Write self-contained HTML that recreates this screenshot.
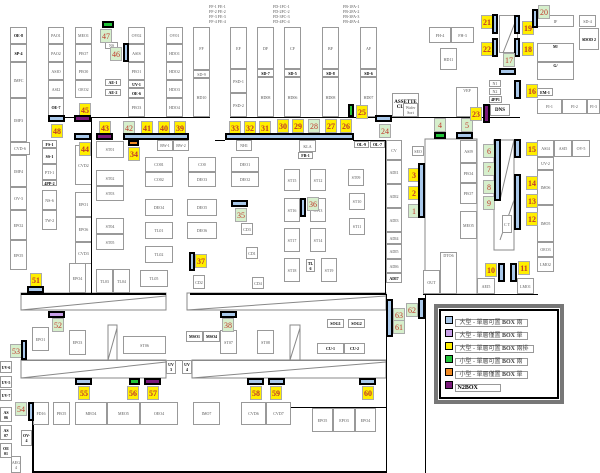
<!DOCTYPE html><html><head><meta charset="utf-8"><style>
body{margin:0;width:600px;height:473px;background:#fff;position:relative;overflow:hidden;font-family:"Liberation Serif","Noto Serif CJK SC",serif}
div{position:absolute;box-sizing:border-box}
.b{border:1px solid #999;font-size:4px;color:#555;display:flex;align-items:center;justify-content:center;text-align:center;line-height:5px;background:#fff}
.k{font-weight:bold;color:#000}
.y,.g{width:12px;height:14px;border:1px solid #aaa;font-size:8px;color:#c0392b;display:flex;align-items:center;justify-content:center;font-weight:bold}
.y{background:#ffef00}.g{background:#d6efcc;font-weight:normal}
.p{background:#a9c8ea;border:2px solid #000}
.l{background:#000}
.t{font-size:4px;color:#555;line-height:5px}
</style></head><body>
<!-- left column -->
<div class="b k" style="left:10px;top:27px;width:17px;height:17px">OE-8</div>
<div class="b k" style="left:10px;top:44px;width:17px;height:18px">SP-4</div>
<div class="b" style="left:10px;top:62px;width:17px;height:36px">IMFC</div>
<div class="b" style="left:10px;top:98px;width:17px;height:44px">IMF3</div>
<div class="b" style="left:10px;top:142px;width:20px;height:13px">CVD-6</div>
<div class="b" style="left:10px;top:155px;width:17px;height:32px">IMF4</div>
<div class="b" style="left:10px;top:187px;width:17px;height:23px">OV-3</div>
<div class="b" style="left:10px;top:210px;width:17px;height:30px">EPO2</div>
<div class="b" style="left:10px;top:240px;width:17px;height:30px">EPO5</div>
<div class="b" style="left:48px;top:27px;width:16px;height:17px">PAO1</div>
<div class="b" style="left:48px;top:44px;width:16px;height:18px">PAO2</div>
<div class="b" style="left:48px;top:62px;width:16px;height:18px">ASIO</div>
<div class="b" style="left:48px;top:80px;width:16px;height:18px">ASI2</div>
<div class="b k" style="left:48px;top:98px;width:16px;height:19px">OE-7</div>
<div class="b" style="left:75px;top:27px;width:17px;height:17px">MEO1</div>
<div class="b" style="left:75px;top:44px;width:17px;height:18px">PEO7</div>
<div class="b" style="left:75px;top:62px;width:17px;height:18px">PEO0</div>
<div class="b" style="left:75px;top:80px;width:17px;height:18px">OEO2</div>
<div class="b k" style="left:42px;top:140px;width:15px;height:8px">FS-1</div>
<div class="b k" style="left:42px;top:148px;width:15px;height:16px">SS-1</div>
<div class="b" style="left:42px;top:164px;width:15px;height:16px">PTI-1</div>
<div class="b k" style="left:42px;top:180px;width:15px;height:6px">4PP-2</div>
<div class="b" style="left:42px;top:190px;width:15px;height:20px">NS-6</div>
<div class="b" style="left:42px;top:210px;width:15px;height:20px">TW-2</div>
<div class="b" style="left:75px;top:145px;width:17px;height:40px">CVD2</div>
<div class="b" style="left:75px;top:192px;width:17px;height:25px">EPO1</div>
<div class="b" style="left:75px;top:217px;width:17px;height:25px">EPO6</div>
<div class="b" style="left:75px;top:242px;width:17px;height:22px">CVD3</div>
<div class="b" style="left:69px;top:263px;width:17px;height:30px">EPO4</div>
<div class="b k" style="left:105px;top:79px;width:16px;height:7px">AE-1</div>
<div class="b k" style="left:105px;top:89px;width:16px;height:7px">AE-2</div>
<div class="b" style="left:105px;top:42px;width:13px;height:7px">NS</div>
<div class="b" style="left:128px;top:27px;width:17px;height:17px">OV02</div>
<div class="b" style="left:128px;top:44px;width:17px;height:18px">ASIS</div>
<div class="b" style="left:128px;top:62px;width:17px;height:18px">PEO1</div>
<div class="b k" style="left:128px;top:80px;width:17px;height:8px">UV-1</div>
<div class="b k" style="left:128px;top:88px;width:17px;height:10px">OE-6</div>
<div class="b" style="left:128px;top:98px;width:17px;height:19px">PEO3</div>
<div class="b" style="left:166px;top:27px;width:17px;height:17px">OV01</div>
<div class="b" style="left:166px;top:44px;width:17px;height:18px">HDO1</div>
<div class="b" style="left:166px;top:62px;width:17px;height:18px">HDO2</div>
<div class="b" style="left:166px;top:80px;width:17px;height:18px">HDO3</div>
<div class="b" style="left:166px;top:98px;width:17px;height:19px">HDO4</div>
<div class="b" style="left:193px;top:27px;width:17px;height:43px">FF</div>
<div class="b" style="left:193px;top:70px;width:17px;height:8px">SD-9</div>
<div class="b" style="left:193px;top:78px;width:17px;height:39px">HD10</div>
<div class="b" style="left:230px;top:27px;width:17px;height:42px">EF</div>
<div class="b" style="left:230px;top:69px;width:17px;height:24px">PSD-1</div>
<div class="b" style="left:230px;top:93px;width:17px;height:24px">PSD-2</div>
<div class="b" style="left:257px;top:27px;width:17px;height:42px">DF</div>
<div class="b k" style="left:257px;top:69px;width:17px;height:8px">SD-7</div>
<div class="b" style="left:257px;top:77px;width:17px;height:40px">HD08</div>
<div class="b" style="left:284px;top:27px;width:17px;height:42px">CF</div>
<div class="b k" style="left:284px;top:69px;width:17px;height:8px">SD-5</div>
<div class="b" style="left:284px;top:77px;width:17px;height:40px">HD06</div>
<div class="b" style="left:322px;top:27px;width:17px;height:42px">BF</div>
<div class="b k" style="left:322px;top:69px;width:17px;height:8px">SD-8</div>
<div class="b" style="left:322px;top:77px;width:17px;height:40px">HD08</div>
<div class="b" style="left:360px;top:27px;width:17px;height:42px">AF</div>
<div class="b k" style="left:360px;top:69px;width:17px;height:8px">SD-6</div>
<div class="b" style="left:360px;top:77px;width:17px;height:40px">HD07</div>
<div class="t" style="left:209px;top:4px">FF-1 FE-1<br>FF-2 FE-2<br>FF-3 FE-3<br>FF-4 FE-4</div>
<div class="t" style="left:273px;top:4px">FD-1FC-1<br>FD-2FC-2<br>FD-3FC-3<br>FD-4FC-4</div>
<div class="t" style="left:343px;top:4px">FB-1FA-1<br>FB-2FA-2<br>FB-3FA-3<br>FB-4FA-4</div>
<div class="b" style="left:429px;top:27px;width:22px;height:16px">FH-4</div>
<div class="b" style="left:451px;top:27px;width:23px;height:16px">FH-3</div>
<div class="b" style="left:440px;top:48px;width:17px;height:22px">HD11</div>
<div class="b k" style="left:392px;top:93px;width:27px;height:24px;font-size:5px">ASSETTE CLEAN</div>
<div class="b" style="left:403px;top:103px;width:15px;height:14px">Wafer Sort</div>
<div class="b" style="left:456px;top:87px;width:22px;height:30px;align-items:flex-start">VEP</div>
<div class="b" style="left:489px;top:80px;width:12px;height:7px">N1</div>
<div class="b" style="left:489px;top:88px;width:12px;height:7px">N2</div>
<div class="b k" style="left:489px;top:96px;width:13px;height:7px">4PP1</div>
<div class="b k" style="left:490px;top:104px;width:20px;height:12px;font-size:5px">DNS</div>
<div class="b" style="left:499px;top:15px;width:19px;height:38px;background:none"></div>
<svg style="position:absolute;left:0;top:0" width="600" height="473"><g stroke="#888" fill="none" stroke-width="1">
<line x1="503" y1="53" x2="518" y2="15"/><line x1="500" y1="200" x2="514" y2="140"/><line x1="500" y1="240" x2="514" y2="200"/>
<polygon points="21,293 166,293 166,310 21,310"/><line x1="21" y1="310" x2="166" y2="296"/>
<polygon points="187,293 386,293 386,310 187,310"/><line x1="187" y1="310" x2="386" y2="296"/>
<polygon points="21,360 166,360 166,378 21,378"/><line x1="21" y1="378" x2="166" y2="362"/>
<polygon points="192,360 386,360 386,378 192,378"/><line x1="192" y1="378" x2="386" y2="362"/>
<polygon points="108,325 117,325 117,360 108,360"/><line x1="108" y1="360" x2="117" y2="328"/>
<polygon points="290,325 300,325 300,360 290,360"/><line x1="290" y1="360" x2="300" y2="328"/>
<rect x="425" y="139" width="52" height="155"/><rect x="494" y="140" width="20" height="110"/>
</g></svg>
<div class="b" style="left:537px;top:15px;width:37px;height:12px">IF</div>
<div class="b" style="left:579px;top:15px;width:17px;height:12px">SD-4</div>
<div class="b k" style="left:579px;top:28px;width:20px;height:22px">SDOD 2</div>
<div class="b k" style="left:537px;top:43px;width:37px;height:19px;align-items:flex-start">M/</div>
<div class="b k" style="left:537px;top:62px;width:37px;height:18px;align-items:flex-start">G/</div>
<div class="b k" style="left:537px;top:88px;width:16px;height:8px">EM-1</div>
<div class="b" style="left:537px;top:99px;width:25px;height:15px">FI-1</div>
<div class="b" style="left:562px;top:99px;width:25px;height:15px">FI-2</div>
<div class="b" style="left:587px;top:99px;width:13px;height:15px">FI-3</div>
<div class="b" style="left:537px;top:140px;width:17px;height:17px">ASI4</div>
<div class="b" style="left:554px;top:140px;width:18px;height:17px">ASI5</div>
<div class="b" style="left:572px;top:140px;width:18px;height:17px">OV-5</div>
<div class="b" style="left:537px;top:157px;width:17px;height:13px">UV-2</div>
<div class="b" style="left:537px;top:170px;width:17px;height:35px">IMO6</div>
<div class="b" style="left:537px;top:205px;width:17px;height:37px">IMO5</div>
<div class="b" style="left:537px;top:242px;width:17px;height:15px">OEO3</div>
<div class="b" style="left:537px;top:257px;width:17px;height:15px">LMO2</div>
<div class="b" style="left:477px;top:278px;width:18px;height:16px">AEI5</div>
<div class="b" style="left:517px;top:278px;width:17px;height:16px">LMO1</div>
<div class="b" style="left:502px;top:215px;width:10px;height:18px">C T</div>
<div class="b" style="left:386px;top:140px;width:16px;height:20px">CV</div>
<div class="b" style="left:386px;top:160px;width:16px;height:24px">ADI1</div>
<div class="b" style="left:386px;top:184px;width:16px;height:24px">ADI2</div>
<div class="b" style="left:386px;top:208px;width:16px;height:24px">ADI3</div>
<div class="b" style="left:386px;top:232px;width:16px;height:12px">ADI4</div>
<div class="b" style="left:386px;top:244px;width:16px;height:15px">ADI5</div>
<div class="b" style="left:386px;top:259px;width:16px;height:14px">ADI6</div>
<div class="b k" style="left:386px;top:273px;width:16px;height:10px">ADI7</div>
<div class="b" style="left:412px;top:146px;width:12px;height:10px">SEO</div>
<div class="b" style="left:460px;top:140px;width:17px;height:23px">ASI9</div>
<div class="b" style="left:460px;top:163px;width:17px;height:20px">PEO4</div>
<div class="b" style="left:460px;top:183px;width:17px;height:21px">PEO7</div>
<div class="b" style="left:460px;top:211px;width:17px;height:28px">MEO5</div>
<div class="b" style="left:423px;top:270px;width:17px;height:24px">OUT</div>
<div class="b" style="left:440px;top:252px;width:17px;height:42px;align-items:flex-start">DTO6</div>
<!-- middle block -->
<div class="b" style="left:96px;top:141px;width:28px;height:17px">ST01</div>
<div class="b" style="left:96px;top:170px;width:28px;height:16px">ST02</div>
<div class="b" style="left:96px;top:186px;width:28px;height:15px">ST03</div>
<div class="b" style="left:96px;top:218px;width:28px;height:16px">ST04</div>
<div class="b" style="left:96px;top:234px;width:28px;height:16px">ST05</div>
<div class="b" style="left:96px;top:269px;width:17px;height:24px">TL03</div>
<div class="b" style="left:113px;top:269px;width:17px;height:24px">TL04</div>
<div class="b" style="left:140px;top:270px;width:28px;height:17px">TL05</div>
<div class="b" style="left:145px;top:157px;width:28px;height:15px">CO01</div>
<div class="b" style="left:145px;top:172px;width:28px;height:15px">CO02</div>
<div class="b" style="left:188px;top:157px;width:28px;height:15px">CO0</div>
<div class="b" style="left:188px;top:172px;width:28px;height:15px">DEO3</div>
<div class="b" style="left:231px;top:157px;width:28px;height:15px">DEO1</div>
<div class="b" style="left:231px;top:172px;width:28px;height:15px">DEO2</div>
<div class="b" style="left:145px;top:199px;width:28px;height:17px">DEO4</div>
<div class="b" style="left:187px;top:199px;width:30px;height:17px">DEO5</div>
<div class="b" style="left:145px;top:222px;width:28px;height:17px">TL01</div>
<div class="b" style="left:187px;top:222px;width:30px;height:17px">DEO6</div>
<div class="b" style="left:145px;top:246px;width:28px;height:17px">TL02</div>
<div class="b" style="left:241px;top:223px;width:12px;height:12px">CD3</div>
<div class="b" style="left:246px;top:247px;width:12px;height:12px">CD1</div>
<div class="b" style="left:193px;top:275px;width:12px;height:14px">CD2</div>
<div class="b" style="left:252px;top:277px;width:12px;height:12px">CD4</div>
<div class="b" style="left:157px;top:140px;width:16px;height:11px">BW-1</div>
<div class="b" style="left:173px;top:140px;width:16px;height:11px">BW-2</div>
<div class="b" style="left:236px;top:140px;width:16px;height:11px">NH1</div>
<div class="b" style="left:299px;top:140px;width:17px;height:12px">KLA</div>
<div class="b k" style="left:298px;top:152px;width:15px;height:7px">FB-1</div>
<div class="b k" style="left:354px;top:141px;width:15px;height:7px">OL-9</div>
<div class="b k" style="left:370px;top:141px;width:15px;height:7px">OL-7</div>
<div class="b" style="left:284px;top:169px;width:16px;height:22px">ST15</div>
<div class="b" style="left:310px;top:169px;width:16px;height:22px">ST12</div>
<div class="b" style="left:348px;top:169px;width:16px;height:17px">ST09</div>
<div class="b" style="left:284px;top:198px;width:16px;height:24px">ST16</div>
<div class="b" style="left:310px;top:198px;width:16px;height:24px">ST13</div>
<div class="b" style="left:349px;top:193px;width:16px;height:17px">ST10</div>
<div class="b" style="left:349px;top:218px;width:16px;height:17px">ST11</div>
<div class="b" style="left:284px;top:228px;width:16px;height:24px">ST17</div>
<div class="b" style="left:310px;top:228px;width:16px;height:24px">ST14</div>
<div class="b" style="left:284px;top:258px;width:16px;height:24px">ST18</div>
<div class="b k" style="left:306px;top:259px;width:9px;height:13px">TL 6</div>
<div class="b" style="left:321px;top:258px;width:16px;height:24px">ST19</div>
<div class="l" style="left:91px;top:117px;width:1px;height:176px"></div>
<div class="l" style="left:385px;top:140px;width:1px;height:153px"></div>
<div class="l" style="left:190px;top:293px;width:196px;height:2px"></div>
<div class="l" style="left:21px;top:293px;width:145px;height:2px"></div>
<div class="l" style="left:48px;top:117px;width:162px;height:1px"></div>
<div class="l" style="left:230px;top:117px;width:290px;height:1px"></div>
<div class="l" style="left:215px;top:140px;width:10px;height:1px"></div>
<div class="l" style="left:353px;top:140px;width:33px;height:1px"></div>
<div class="l" style="left:423px;top:294px;width:115px;height:1px"></div>
<div class="l" style="left:386px;top:294px;width:1px;height:179px"></div>
<div class="l" style="left:425px;top:294px;width:1px;height:179px"></div>
<div class="l" style="left:32px;top:402px;width:2px;height:71px"></div>
<div class="l" style="left:32px;top:471px;width:354px;height:2px"></div>
<div class="l" style="left:291px;top:407px;width:95px;height:1px"></div>
<div class="l" style="left:0px;top:408px;width:386px;height:1px;background:#000;top:401px;height:1px;opacity:0"></div>
<div class="l" style="left:21px;top:360px;width:365px;height:1px;background:#888"></div>
<div class="l" style="left:21px;top:400px;width:365px;height:1px;background:#888;display:none"></div>
<!-- lower rooms -->
<div class="b" style="left:32px;top:327px;width:17px;height:24px">EPO1</div>
<div class="b" style="left:69px;top:330px;width:17px;height:25px">EPO3</div>
<div class="b" style="left:123px;top:336px;width:43px;height:18px">ST06</div>
<div class="b k" style="left:186px;top:331px;width:17px;height:11px">MSO1</div>
<div class="b k" style="left:203px;top:331px;width:17px;height:11px">MSO4</div>
<div class="b" style="left:220px;top:330px;width:17px;height:24px">ST07</div>
<div class="b" style="left:257px;top:330px;width:17px;height:24px">ST08</div>
<div class="b k" style="left:327px;top:319px;width:17px;height:9px">SOG1</div>
<div class="b k" style="left:348px;top:319px;width:17px;height:9px">SOG2</div>
<div class="b k" style="left:317px;top:343px;width:27px;height:11px">CU-1</div>
<div class="b k" style="left:344px;top:343px;width:21px;height:11px">CU-2</div>
<div class="b k" style="left:166px;top:360px;width:10px;height:14px">UV 3</div>
<div class="b k" style="left:182px;top:360px;width:10px;height:14px">UV 4</div>
<div class="b k" style="left:0px;top:361px;width:12px;height:12px">UV-6</div>
<div class="b k" style="left:0px;top:376px;width:12px;height:12px">UV-5</div>
<div class="b k" style="left:0px;top:389px;width:12px;height:12px">UV-7</div>
<div class="b k" style="left:0px;top:407px;width:12px;height:15px">AS 06</div>
<div class="b k" style="left:0px;top:425px;width:12px;height:15px">AS 07</div>
<div class="b k" style="left:0px;top:443px;width:12px;height:15px">OE 01</div>
<div class="b" style="left:11px;top:456px;width:10px;height:17px">AEG 4</div>
<div class="b k" style="left:21px;top:430px;width:11px;height:16px">OV-4</div>
<div class="b" style="left:33px;top:402px;width:16px;height:23px">FD16</div>
<div class="b" style="left:53px;top:402px;width:17px;height:23px">PEO5</div>
<div class="b" style="left:75px;top:402px;width:32px;height:23px">MEO4</div>
<div class="b" style="left:107px;top:402px;width:33px;height:23px">MEO5</div>
<div class="b" style="left:140px;top:402px;width:38px;height:23px">OEO4</div>
<div class="b" style="left:193px;top:402px;width:27px;height:23px">IMO7</div>
<div class="b" style="left:241px;top:402px;width:25px;height:23px">CVD6</div>
<div class="b" style="left:266px;top:402px;width:25px;height:23px">CVD7</div>
<div class="b" style="left:312px;top:408px;width:21px;height:24px">EPO5</div>
<div class="b" style="left:333px;top:408px;width:22px;height:24px">EPO3</div>
<div class="b" style="left:355px;top:408px;width:21px;height:24px">EPO4</div>
<!-- number boxes & ports -->
<div class="p" style="left:102px;top:21px;width:12px;height:7px;background:#22c33a"></div><div class="g" style="left:100px;top:29px">47</div>
<div class="g" style="left:110px;top:47px">46</div><div class="p" style="left:123px;top:43px;width:6px;height:19px"></div>
<div class="y" style="left:79px;top:103px">45</div><div class="p" style="left:74px;top:115px;width:17px;height:7px;background:#7a1a7a"></div>
<div class="p" style="left:48px;top:115px;width:17px;height:7px"></div><div class="y" style="left:51px;top:124px">48</div>
<div class="y" style="left:99px;top:121px">43</div><div class="p" style="left:96px;top:133px;width:17px;height:7px;background:#7a1a7a"></div>
<div class="p" style="left:74px;top:133px;width:17px;height:7px"></div><div class="y" style="left:79px;top:142px">44</div>
<div class="g" style="left:123px;top:121px">42</div>
<div class="y" style="left:141px;top:121px">41</div><div class="y" style="left:158px;top:121px">40</div><div class="y" style="left:174px;top:121px">39</div>
<div class="p" style="left:123px;top:133px;width:66px;height:7px"></div>
<div class="p" style="left:128px;top:140px;width:11px;height:6px;background:#f08a24"></div><div class="y" style="left:128px;top:147px">34</div>
<div class="y" style="left:229px;top:121px">33</div><div class="y" style="left:244px;top:121px">32</div><div class="y" style="left:259px;top:121px">31</div><div class="y" style="left:277px;top:119px">30</div><div class="y" style="left:292px;top:119px">29</div>
<div class="g" style="left:308px;top:119px">28</div><div class="y" style="left:325px;top:119px">27</div><div class="y" style="left:340px;top:119px">26</div>
<div class="p" style="left:225px;top:133px;width:129px;height:7px"></div>
<div class="p" style="left:348px;top:104px;width:6px;height:13px;background:#22c33a"></div><div class="y" style="left:356px;top:105px">25</div>
<div class="p" style="left:375px;top:115px;width:17px;height:7px"></div><div class="g" style="left:379px;top:124px">24</div>
<div class="g" style="left:434px;top:118px">4</div><div class="p" style="left:434px;top:132px;width:12px;height:7px;background:#22c33a"></div>
<div class="g" style="left:461px;top:118px">5</div><div class="p" style="left:456px;top:132px;width:17px;height:7px"></div>
<div class="y" style="left:470px;top:107px">23</div><div class="p" style="left:483px;top:104px;width:7px;height:19px;background:#7a1a7a"></div>
<div class="y" style="left:481px;top:15px">21</div><div class="p" style="left:492px;top:14px;width:6px;height:20px"></div>
<div class="y" style="left:481px;top:42px">22</div><div class="p" style="left:492px;top:38px;width:6px;height:19px"></div>
<div class="p" style="left:514px;top:15px;width:6px;height:19px"></div><div class="y" style="left:522px;top:21px">19</div>
<div class="p" style="left:532px;top:9px;width:6px;height:19px"></div><div class="g" style="left:538px;top:5px">20</div>
<div class="p" style="left:514px;top:38px;width:6px;height:19px"></div><div class="y" style="left:522px;top:42px">18</div>
<div class="g" style="left:503px;top:53px">17</div><div class="p" style="left:499px;top:68px;width:17px;height:7px"></div>
<div class="p" style="left:514px;top:80px;width:7px;height:19px"></div><div class="y" style="left:526px;top:84px">16</div>
<div class="g" style="left:483px;top:144px">6</div><div class="g" style="left:483px;top:162px">7</div><div class="g" style="left:483px;top:180px">8</div><div class="g" style="left:483px;top:196px">9</div>
<div class="p" style="left:494px;top:139px;width:7px;height:62px"></div>
<div class="p" style="left:514px;top:139px;width:7px;height:19px"></div><div class="y" style="left:526px;top:142px">15</div>
<div class="p" style="left:514px;top:174px;width:7px;height:56px"></div>
<div class="y" style="left:526px;top:176px">14</div><div class="y" style="left:526px;top:194px">13</div><div class="y" style="left:526px;top:212px">12</div>
<div class="y" style="left:408px;top:168px">3</div><div class="y" style="left:408px;top:186px">2</div><div class="g" style="left:408px;top:204px">1</div>
<div class="p" style="left:418px;top:163px;width:7px;height:55px"></div>
<div class="y" style="left:485px;top:263px">10</div><div class="p" style="left:498px;top:263px;width:7px;height:19px"></div><div class="p" style="left:510px;top:263px;width:7px;height:19px"></div><div class="y" style="left:518px;top:261px">11</div>
<div class="g" style="left:406px;top:303px">62</div><div class="p" style="left:418px;top:298px;width:7px;height:21px"></div>
<div class="p" style="left:386px;top:299px;width:7px;height:38px"></div><div class="g" style="left:393px;top:308px">63</div><div class="g" style="left:393px;top:320px">61</div>
<div class="p" style="left:231px;top:200px;width:17px;height:7px"></div><div class="g" style="left:235px;top:208px">35</div>
<div class="p" style="left:300px;top:198px;width:6px;height:19px"></div><div class="g" style="left:307px;top:197px">36</div>
<div class="p" style="left:189px;top:252px;width:6px;height:19px"></div><div class="y" style="left:195px;top:254px">37</div>
<div class="y" style="left:30px;top:273px">51</div><div class="p" style="left:27px;top:286px;width:17px;height:7px"></div>
<div class="p" style="left:48px;top:311px;width:17px;height:7px;background:#c8a0e8"></div><div class="g" style="left:52px;top:318px">52</div>
<div class="p" style="left:220px;top:311px;width:17px;height:7px"></div><div class="g" style="left:222px;top:318px">38</div>
<div class="g" style="left:10px;top:344px">53</div><div class="p" style="left:21px;top:340px;width:6px;height:20px"></div>
<div class="p" style="left:75px;top:378px;width:17px;height:7px"></div><div class="y" style="left:78px;top:386px">55</div>
<div class="p" style="left:129px;top:378px;width:11px;height:7px;background:#22c33a"></div><div class="y" style="left:127px;top:386px">56</div>
<div class="p" style="left:144px;top:378px;width:17px;height:7px;background:#7a1a7a"></div><div class="y" style="left:147px;top:386px">57</div>
<div class="p" style="left:247px;top:378px;width:17px;height:7px"></div><div class="y" style="left:250px;top:386px">58</div>
<div class="p" style="left:268px;top:378px;width:17px;height:7px"></div><div class="y" style="left:270px;top:386px">59</div>
<div class="p" style="left:359px;top:378px;width:17px;height:7px"></div><div class="y" style="left:362px;top:386px">60</div>
<div class="g" style="left:15px;top:402px">54</div><div class="p" style="left:28px;top:402px;width:6px;height:19px"></div>
<!-- legend -->
<div style="left:434px;top:304px;width:130px;height:100px;border:4px solid #777;background:#fff"><div style="left:1px;top:1px;right:1px;bottom:1px;border:2px solid #000"></div></div>
<div style="left:445px;top:316px;font-size:6px;line-height:12px;color:#444;font-family:'Liberation Serif','Noto Sans CJK TC',serif">
<div style="position:relative;white-space:nowrap"><span style="display:inline-block;width:6px;height:6px;background:#a9c8ea;border:1px solid #000"></span> <span style="border:1px solid #999;padding:0 4px">大型 - 單層可置 <b>BOX</b> 兩</span></div>
<div style="position:relative;white-space:nowrap"><span style="display:inline-block;width:6px;height:6px;background:#c8a0e8;border:1px solid #000"></span> <span style="border:1px solid #999;padding:0 4px">大型 - 單層僅置 <b>BOX</b> 單</span></div>
<div style="position:relative;white-space:nowrap"><span style="display:inline-block;width:6px;height:6px;background:#ffef00;border:1px solid #000"></span> <span style="border:1px solid #999;padding:0 4px">大型 - 單層可置 <b>BOX</b> 兩排</span></div>
<div style="position:relative;white-space:nowrap"><span style="display:inline-block;width:6px;height:6px;background:#22c33a;border:1px solid #000"></span> <span style="border:1px solid #999;padding:0 4px">小型 - 單層可置 <b>BOX</b> 兩</span></div>
<div style="position:relative;white-space:nowrap"><span style="display:inline-block;width:6px;height:6px;background:#f08a24;border:1px solid #000"></span> <span style="border:1px solid #999;padding:0 4px">小型 - 單層僅置 <b>BOX</b> 單</span></div>
<div style="position:relative;white-space:nowrap"><span style="display:inline-block;width:6px;height:6px;background:#7a1a7a;border:1px solid #000"></span> <span style="border:1px solid #999;padding:0 22px 0 2px;color:#000"><b>N2BOX</b></span></div>
</div>
</body></html>
